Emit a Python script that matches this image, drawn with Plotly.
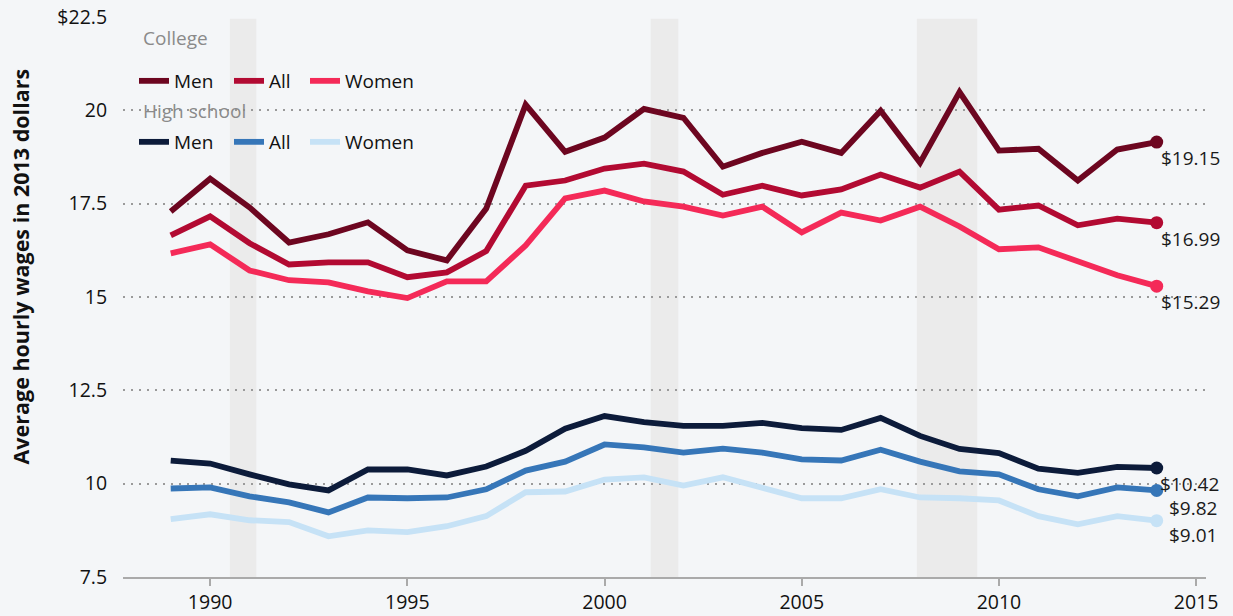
import plotly.graph_objects as go

years = list(range(1989, 2015))

college_men = [17.29, 18.17, 17.40, 16.46, 16.68, 17.00, 16.25, 15.98, 17.37, 20.15,
               18.89, 19.27, 20.04, 19.80, 18.49, 18.86, 19.16, 18.86, 19.99, 18.60,
               20.49, 18.92, 18.97, 18.12, 18.95, 19.15]
college_all = [16.65, 17.16, 16.44, 15.87, 15.93, 15.93, 15.53, 15.66, 16.23, 17.98,
               18.12, 18.44, 18.57, 18.36, 17.74, 17.98, 17.72, 17.88, 18.28, 17.93,
               18.36, 17.34, 17.45, 16.92, 17.10, 16.99]
college_women = [16.17, 16.41, 15.71, 15.45, 15.39, 15.15, 14.97, 15.42, 15.42, 16.38,
                 17.64, 17.85, 17.56, 17.42, 17.18, 17.42, 16.73, 17.26, 17.05, 17.42,
                 16.89, 16.28, 16.33, 15.95, 15.58, 15.29]
hs_men = [10.62, 10.54, 10.25, 9.98, 9.82, 10.38, 10.38, 10.22, 10.46, 10.88,
          11.47, 11.81, 11.65, 11.55, 11.55, 11.63, 11.49, 11.44, 11.76, 11.28,
          10.93, 10.82, 10.40, 10.29, 10.45, 10.42]
hs_all = [9.87, 9.90, 9.66, 9.50, 9.23, 9.63, 9.61, 9.63, 9.85, 10.35,
          10.59, 11.05, 10.97, 10.83, 10.94, 10.83, 10.65, 10.62, 10.91, 10.59,
          10.33, 10.25, 9.85, 9.66, 9.90, 9.82]
hs_women = [9.05, 9.18, 9.02, 8.97, 8.59, 8.75, 8.70, 8.86, 9.13, 9.77,
            9.79, 10.11, 10.17, 9.95, 10.17, 9.90, 9.61, 9.61, 9.85, 9.63,
            9.61, 9.55, 9.13, 8.91, 9.13, 9.01]

recessions = [(1990.5, 1991.17), (2001.17, 2001.87), (2007.92, 2009.45)]

y_ticks = [7.5, 10, 12.5, 15, 17.5, 20, 22.5]
y_ticktext = ["7.5", "10", "12.5", "15", "17.5", "20", "$22.5"]
x_ticks = [1990, 1995, 2000, 2005, 2010, 2015]

FONT = "Open Sans"
BG = "#f4f6f8"
W, H = 1233, 616
ML, MR, MT, MB = 123, 27, 17, 39
PW, PH = W - ML - MR, H - MT - MB

# (name, values, colour, legend id, legend x px, legend y px, label dx, label dy)
series = [
    ("Men", college_men, "#6d0620", "legend", 134, 81, 2, 0),
    ("All", college_all, "#b20a32", "legend2", 229, 81, 2, 0),
    ("Women", college_women, "#f42a58", "legend3", 305, 81, 2, 0),
    ("Men", hs_men, "#0c1b3a", "legend4", 134, 142, 1, 0),
    ("All", hs_all, "#3676b8", "legend5", 229, 142, 10, -2),
    ("Women", hs_women, "#c6e2f6", "legend6", 305, 142, 10, 2),
]

fig = go.Figure()
for name, vals, color, leg, lx, ly, dx, dy in series:
    fig.add_trace(go.Scatter(x=years, y=vals, mode="lines", name=name,
                             line=dict(color=color, width=5.8), legend=leg))
for name, vals, color, leg, lx, ly, dx, dy in series:
    fig.add_trace(go.Scatter(x=[years[-1]], y=[vals[-1]], mode="markers",
                             marker=dict(color=color, size=13), showlegend=False,
                             hoverinfo="skip"))

shapes = []
for a, b in recessions:
    shapes.append(dict(type="rect", xref="x", yref="y", x0=a, x1=b, y0=7.5, y1=22.45,
                       fillcolor="#ebebeb", line=dict(width=0), layer="below"))

annotations = []
for name, vals, color, leg, lx, ly, dx, dy in series:
    annotations.append(dict(x=years[-1], y=vals[-1], xref="x", yref="y",
                            text=f"${vals[-1]:.2f}", showarrow=False,
                            xanchor="left", yanchor="middle",
                            xshift=dx, yshift=-16 + dy,
                            font=dict(family=FONT, size=19, color="#1a1a1a")))
annotations += [
    dict(x=-0.0946, y=0.5536, xref="paper", yref="paper",
         text="<b>Average hourly wages in 2013 dollars</b>",
         textangle=-90, showarrow=False, xanchor="center", yanchor="middle",
         font=dict(family=FONT, size=21.5, color="#111")),
    dict(x=0.017, y=0.9625, xref="paper", yref="paper", text="College", showarrow=False,
         xanchor="left", yanchor="middle", font=dict(family=FONT, size=19, color="#8a8a8a")),
    dict(x=0.017, y=0.832, xref="paper", yref="paper", text="High school", showarrow=False,
         xanchor="left", yanchor="middle", font=dict(family=FONT, size=19, color="#8a8a8a")),
]

legends = {}
for name, vals, color, leg, lx, ly, dx, dy in series:
    legends[leg] = dict(orientation="h", xref="paper", yref="paper",
                        x=(lx - ML) / PW, y=(H - MB - ly) / PH,
                        xanchor="left", yanchor="middle",
                        bgcolor="rgba(0,0,0,0)",
                        font=dict(family=FONT, size=19, color="#111"))

fig.update_layout(
    width=W, height=H,
    margin=dict(l=ML, r=MR, t=MT, b=MB, autoexpand=False),
    paper_bgcolor=BG, plot_bgcolor=BG,
    font=dict(family=FONT, size=19, color="#111"),
    showlegend=True,
    shapes=shapes,
    annotations=annotations,
    xaxis=dict(range=[1987.79, 2015.25], tickvals=x_ticks, showgrid=False, zeroline=False,
               showline=True, linecolor="#aaaaaa", linewidth=2,
               ticks="outside", ticklen=7, tickwidth=2, tickcolor="#aaaaaa",
               automargin=False,
               tickfont=dict(family=FONT, size=19.5, color="#111")),
    yaxis=dict(range=[7.5, 22.5], tickvals=y_ticks, ticktext=y_ticktext,
               showgrid=True, gridcolor="#9a9a9a", gridwidth=2, griddash="2px,6px",
               zeroline=False, showline=False, ticks="outside", ticklen=11,
               tickcolor="rgba(0,0,0,0)", automargin=False,
               tickfont=dict(family=FONT, size=19.5, color="#111")),
    hovermode=False,
    **legends,
)

fig.write_html(
    "out.html",
    config={"displayModeBar": False},
    post_script="document.body.style.margin='0';document.body.style.background='" + BG + "';",
)
